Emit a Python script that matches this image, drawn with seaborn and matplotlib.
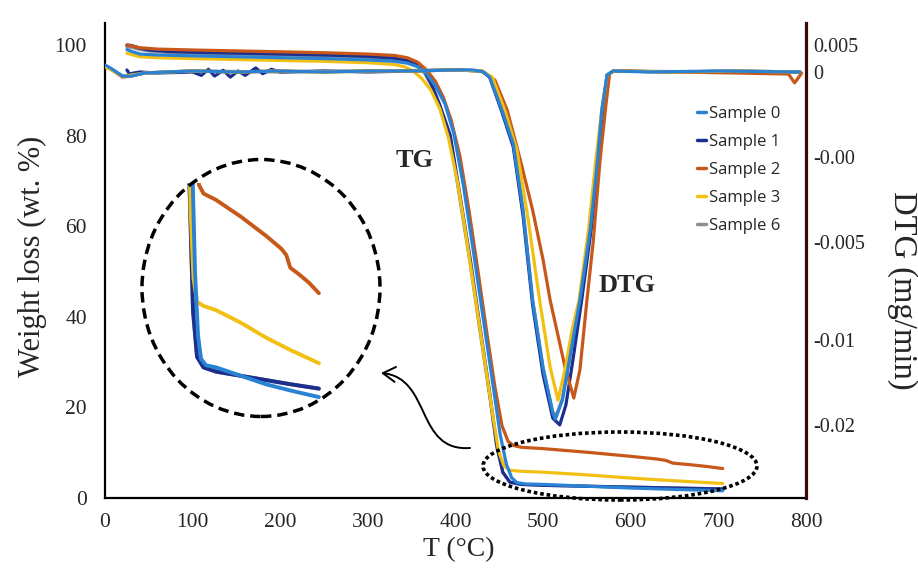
import matplotlib
matplotlib.use("Agg")
import matplotlib.pyplot as plt
import pandas as pd
import seaborn as sns
from matplotlib.patches import Ellipse, FancyArrowPatch
from matplotlib.path import Path
from matplotlib.lines import Line2D

# ---------------- data ----------------
samples = ["Sample 0", "Sample 1", "Sample 2", "Sample 3", "Sample 6"]
colors = {"Sample 0": "#2A82D4", "Sample 1": "#1B2F8F", "Sample 2": "#C8581A",
          "Sample 3": "#F2C012", "Sample 6": "#8E8E8E"}
draw_order = ["Sample 6", "Sample 1", "Sample 2", "Sample 3", "Sample 0"]

# TG: weight (wt. %) versus temperature (deg C)
tg_t_s0 = [25, 30, 40, 60, 100, 150, 200, 250, 300, 330, 345, 357, 367, 377, 388, 398, 409,
           420, 431, 442, 451, 458, 464, 470, 480, 500, 550, 600, 650, 705]
tg_w_s0 = [99.0, 98.6, 98.0, 97.8, 97.6, 97.4, 97.2, 97.0, 96.7, 96.4, 96.0, 95.2, 93.6, 91.0,
           87.0, 80.5, 69.0, 55.0, 40.5, 26.0, 14.0, 7.5, 4.5, 3.4, 3.1, 3.0, 2.6, 2.2, 1.9, 1.6]

tg_t_s1 = [25, 30, 40, 50, 70, 100, 150, 200, 250, 300, 330, 345, 355, 365, 373, 382, 394,
           405, 417, 428, 439, 447, 454, 462, 475, 500, 550, 600, 650, 705]
tg_w_s1 = [100.0, 99.9, 99.3, 98.9, 98.6, 98.4, 98.2, 98.0, 97.8, 97.5, 97.1, 96.6, 95.8, 94.0,
           91.2, 86.8, 80.1, 66.9, 52.5, 37.7, 23.2, 11.7, 5.7, 3.5, 3.0, 2.8, 2.6, 2.4, 2.2, 2.0]

tg_t_s2 = [25, 30, 40, 60, 100, 150, 200, 250, 300, 330, 345, 357, 367, 377, 386, 395, 405,
           415, 425, 435, 445, 453, 460, 466, 475, 500, 550, 600, 630, 640, 648, 665, 685, 705]
tg_w_s2 = [100.0, 99.8, 99.4, 99.1, 98.9, 98.7, 98.5, 98.3, 98.0, 97.7, 97.2, 96.2, 94.5, 92.0,
           88.5, 83.5, 75.5, 64.0, 51.0, 37.5, 24.5, 16.0, 12.5, 11.6, 11.2, 10.9, 10.1, 9.2,
           8.6, 8.3, 7.7, 7.4, 7.0, 6.5]

tg_t_s3 = [25, 30, 40, 60, 100, 150, 200, 250, 300, 330, 342, 352, 362, 372, 382, 392, 402,
           412, 422, 432, 442, 449, 455, 462, 475, 500, 550, 600, 650, 705]
tg_w_s3 = [98.2, 97.9, 97.4, 97.2, 97.0, 96.8, 96.6, 96.4, 96.1, 95.7, 95.2, 94.2, 92.5, 90.0,
           86.0, 79.5, 70.0, 58.0, 45.0, 32.0, 19.0, 10.5, 7.2, 6.1, 5.9, 5.7, 5.1, 4.4, 3.8, 3.2]

tg_t_s6 = [25, 30, 40, 50, 70, 100, 150, 200, 250, 300, 330, 345, 355, 365, 373, 382, 394,
           405, 417, 428, 439, 447, 454, 462, 475, 500, 550, 600, 650, 705]
tg_w_s6 = [99.6, 99.5, 99.0, 98.7, 98.4, 98.2, 98.0, 97.8, 97.6, 97.3, 96.9, 96.4, 95.6, 93.8,
           90.8, 86.2, 79.5, 66.0, 51.5, 36.8, 22.5, 11.4, 5.6, 3.5, 3.0, 2.8, 2.6, 2.4, 2.2, 2.0]

# DTG: mass-loss rate (mg/min) versus temperature (deg C)
dtg_t_s0 = [0, 8, 20, 30, 45, 70, 100, 150, 200, 250, 300, 350, 400, 420, 432, 439, 453, 466,
            477, 488, 500, 511, 514, 522, 531, 542, 554, 562, 567, 573, 580, 620, 700, 793]
dtg_v_s0 = [0.00021, 0.00009, -0.00012, -0.00012, -0.00003, 0.0, 0.00003, 0.0, 0.00003, 0.0,
            0.00003, 0.00003, 0.00006, 0.00006, 0.0, -0.00015, -0.00112, -0.00212, -0.00406,
            -0.00671, -0.00871, -0.01003, -0.01021, -0.00965, -0.00832, -0.00671, -0.00459,
            -0.00262, -0.00112, -0.00009, 0.00003, 0.0, 0.00003, 0.0]

dtg_t_s1 = [25, 28, 33, 40, 60, 100, 110, 118, 125, 135, 143, 152, 160, 172, 180, 190, 200,
            250, 300, 350, 400, 430, 439, 453, 466, 477, 488, 500, 511, 519, 526, 534, 544,
            555, 563, 568, 573, 580, 650, 720, 793]
dtg_v_s1 = [0.00006, -0.00006, -0.00003, 0.0, -0.00003, 0.0, -0.00010, 0.00008, -0.00012,
            0.00005, -0.00015, 0.00003, -0.00010, 0.00012, -0.00005, 0.00008, 0.0, 0.00003,
            0.0, 0.00003, 0.00006, 0.00003, -0.00015, -0.00118, -0.00221, -0.00421, -0.00685,
            -0.00891, -0.01018, -0.01038, -0.00979, -0.00847, -0.00671, -0.00459, -0.00259,
            -0.00112, -0.00009, 0.00003, 0.0, 0.00003, 0.0]

dtg_t_s2 = [0, 8, 20, 30, 45, 70, 100, 150, 200, 250, 300, 350, 400, 430, 445, 459, 474, 488,
            500, 508, 525, 535, 542, 550, 557, 565, 571, 576, 582, 650, 720, 780, 787, 791, 795]
dtg_v_s2 = [0.00018, 0.00006, -0.00015, -0.00012, -0.00003, 0.0, 0.00003, 0.0, 0.00003, 0.0,
            0.00003, 0.00003, 0.00006, 0.00003, -0.00024, -0.00112, -0.00259, -0.00406,
            -0.00553, -0.00671, -0.00868, -0.00959, -0.00876, -0.00671, -0.00503, -0.00259,
            -0.00112, -0.00003, 0.00003, 0.0, -0.00003, -0.00006, -0.00032, -0.00018, -0.00003]

dtg_t_s3 = [0, 8, 20, 30, 45, 70, 100, 150, 200, 250, 300, 350, 400, 430, 442, 457, 470, 483,
            496, 508, 517, 525, 533, 541, 552, 560, 567, 573, 580, 650, 720, 793]
dtg_v_s3 = [0.00015, 0.00006, -0.00012, -0.00009, -0.00003, 0.0, 0.00003, 0.0, 0.00003, 0.0,
            0.00003, 0.00003, 0.00006, 0.00003, -0.00015, -0.00118, -0.00229, -0.00435,
            -0.00671, -0.00868, -0.00965, -0.00876, -0.00759, -0.00671, -0.00459, -0.00262,
            -0.00112, -0.00009, 0.00003, 0.0, 0.00003, 0.0]

dtg_t_s6 = [0, 8, 20, 30, 45, 70, 100, 200, 300, 400, 430, 439, 453, 466, 477, 488, 500, 511,
            515, 522, 531, 542, 554, 562, 567, 573, 580, 700, 793]
dtg_v_s6 = [0.00018, 0.00006, -0.00012, -0.00010, -0.00003, 0.0, 0.00003, 0.0, 0.00003,
            0.00006, 0.00003, -0.00015, -0.00112, -0.00212, -0.00406, -0.00671, -0.00871,
            -0.01000, -0.01010, -0.00960, -0.00832, -0.00671, -0.00459, -0.00262, -0.00112,
            -0.00009, 0.00003, 0.0, 0.0]

x_ticks = [0, 100, 200, 300, 400, 500, 600, 700, 800]
w_ticks = [0, 20, 40, 60, 80, 100]
dtg_tick_pos = [0.00079, 0.0, -0.0025, -0.005, -0.00788, -0.01038]
dtg_tick_labels = ["0.005", "0", "-0.00", "-0.005", "-0.01", "-0.02"]


def long_frame(series):
    rows = []
    for name, (xs, ys) in series.items():
        rows += [(name, a, b) for a, b in zip(xs, ys)]
    return pd.DataFrame(rows, columns=["sample", "T", "value"])


tg_df = long_frame({"Sample 0": (tg_t_s0, tg_w_s0), "Sample 1": (tg_t_s1, tg_w_s1),
                    "Sample 2": (tg_t_s2, tg_w_s2), "Sample 3": (tg_t_s3, tg_w_s3),
                    "Sample 6": (tg_t_s6, tg_w_s6)})
dtg_df = long_frame({"Sample 0": (dtg_t_s0, dtg_v_s0), "Sample 1": (dtg_t_s1, dtg_v_s1),
                     "Sample 2": (dtg_t_s2, dtg_v_s2), "Sample 3": (dtg_t_s3, dtg_v_s3),
                     "Sample 6": (dtg_t_s6, dtg_v_s6)})

# ---------------- styling ----------------
sns.set_theme(style="white")
plt.rcParams["font.family"] = ["Liberation Serif", "DejaVu Serif"]

W, H = 918, 573
fig = plt.figure(figsize=(W / 100, H / 100), dpi=100)


def fx(px):
    return px / W


def fy(py):
    return 1 - py / H


ax = fig.add_axes([fx(105), fy(498), (806 - 105) / W, (498 - 23) / H])
ax2 = ax.twinx()

line_kw = dict(x="T", y="value", hue="sample", hue_order=draw_order, palette=colors,
               sort=False, estimator=None, legend=False, linewidth=2.3)
sns.lineplot(data=tg_df, ax=ax, **line_kw)
sns.lineplot(data=dtg_df, ax=ax2, **line_kw)

ax.set_xlim(0, 800)
ax.set_ylim(0, 104.86)
ax2.set_ylim(-0.012529, 0.001441)

ax.set_xticks(x_ticks)
ax.set_xticklabels([str(v) for v in x_ticks])
ax.set_yticks(w_ticks)
ax.set_yticklabels([str(v) for v in w_ticks])
ax2.set_yticks(dtg_tick_pos)
ax2.set_yticklabels(dtg_tick_labels)

ax.tick_params(axis="x", length=0, pad=11, labelsize=15.5)
ax.tick_params(axis="y", length=0, pad=13, labelsize=15.5)
ax2.tick_params(axis="y", length=0, pad=5, labelsize=14.5)
ax.set_xlabel("")
ax.set_ylabel("")
ax2.set_ylabel("")
ax.grid(False)
ax2.grid(False)

for side in ["top", "right"]:
    ax.spines[side].set_visible(False)
for side in ["left", "bottom"]:
    ax.spines[side].set_color("black")
    ax.spines[side].set_linewidth(1.6)
for side in ["top", "left", "bottom"]:
    ax2.spines[side].set_visible(False)
ax2.spines["right"].set_color("#3B0B0B")
ax2.spines["right"].set_linewidth(2.3)

# axis titles
fig.text(fx(32), fy(256), "Weight loss (wt. %)", rotation=90, ha="center", va="center",
         fontsize=22)
fig.text(fx(459), fy(550), "T (\u00b0C)", ha="center", va="center", fontsize=20)
fig.text(fx(902), fy(290), "DTG (mg/min)", rotation=270, ha="center", va="center",
         fontsize=23.5)

# curve-group labels
ax.text(353, 74.6, "TG", ha="center", va="center", fontsize=19, fontweight="bold")
ax.text(596, 47.0, "DTG", ha="center", va="center", fontsize=19, fontweight="bold")

# legend
handles = [Line2D([0], [0], color=colors[s], lw=2.5) for s in samples]
fig.legend(handles, samples, loc="upper left", bbox_to_anchor=(fx(697), fy(106)),
           frameon=False, handlelength=0.55, handletextpad=0.15, labelspacing=0.72,
           borderpad=0, borderaxespad=0, prop={"family": "Open Sans", "size": 12})

# magnified view of the residue plateaus
inset = fig.add_axes([fx(186), fy(431), 135.4 / W, (431 - 183) / H])
sns.lineplot(data=tg_df, ax=inset, **{**line_kw, "linewidth": 2.8})
inset.set_xlim(440, 710)
inset.set_ylim(0, 11.7)
inset.axis("off")
inset.patch.set_visible(False)

fig.add_artist(Ellipse((fx(261), fy(288)), 238 / W, 257 / H, transform=fig.transFigure,
                       fill=False, edgecolor="black", lw=2.5, linestyle=(0, (3, 1.7))))
fig.add_artist(Ellipse((fx(620), fy(466)), 274 / W, 68 / H, transform=fig.transFigure,
                       fill=False, edgecolor="black", lw=2.6, linestyle=(0, (1, 0.8))))

arrow_path = Path([(fx(470), fy(448)), (fx(415), fy(452)), (fx(432), fy(378)),
                   (fx(381), fy(373))],
                  [Path.MOVETO, Path.CURVE4, Path.CURVE4, Path.CURVE4])
fig.add_artist(FancyArrowPatch(path=arrow_path, transform=fig.transFigure,
                               arrowstyle="->,head_length=0.5,head_width=0.3",
                               mutation_scale=18, lw=1.4, color="black"))

fig.savefig("out.png", dpi=100)
